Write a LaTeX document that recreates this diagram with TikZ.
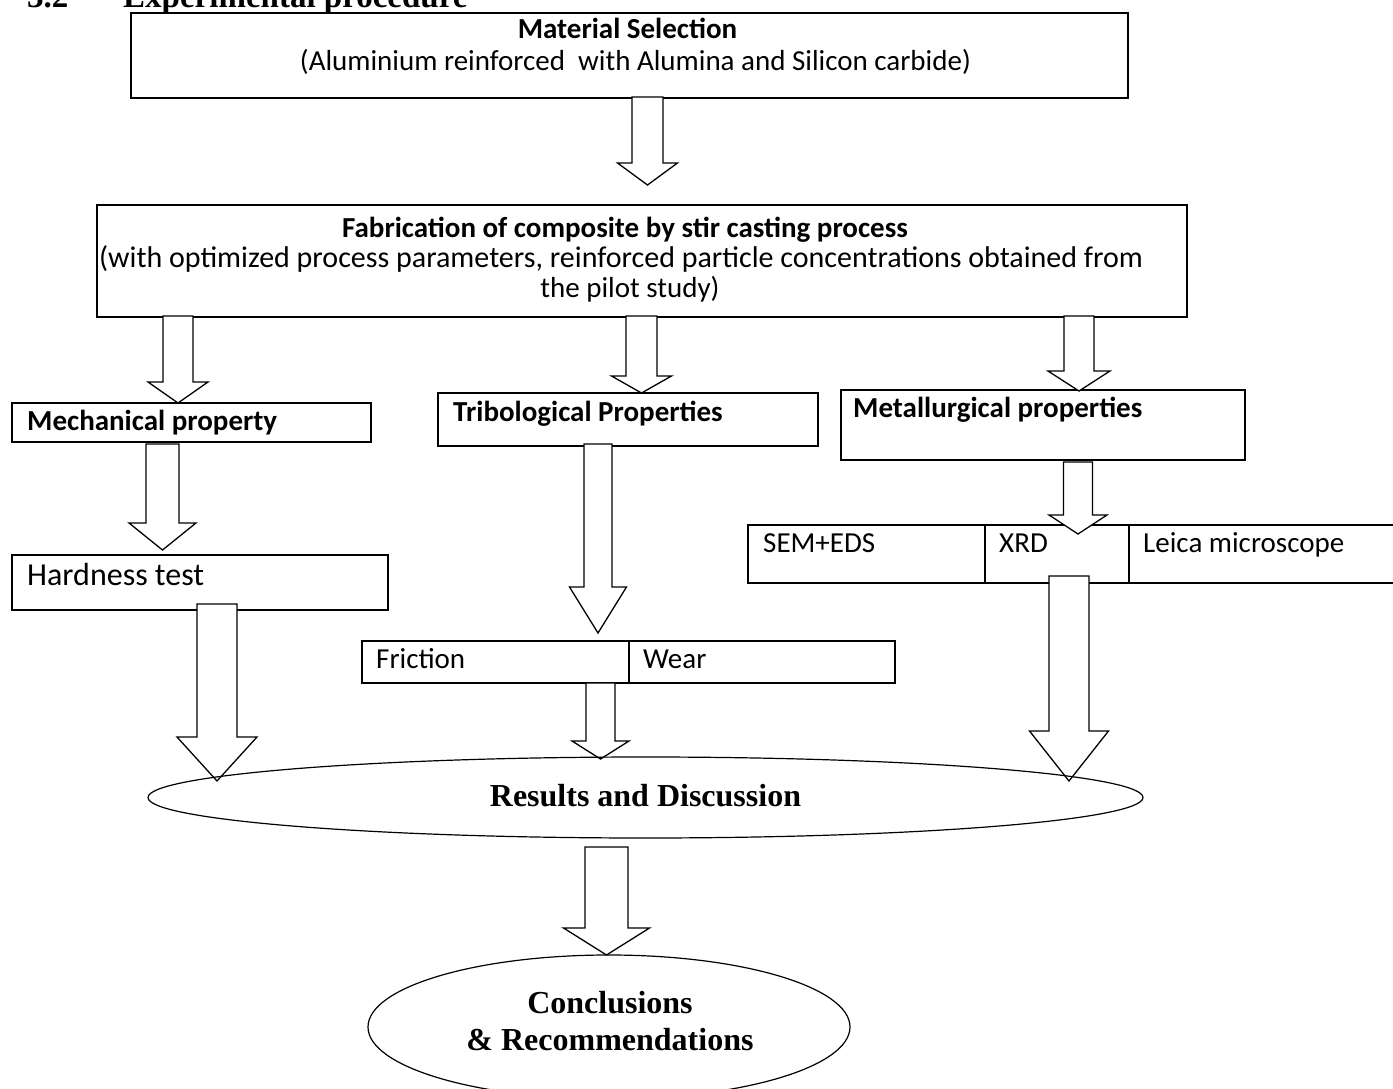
\documentclass[tikz,border=0pt]{standalone}
\usepackage{fontspec}
\usetikzlibrary{shapes.geometric}
\setmainfont{Carlito}
\newfontfamily\tnr{Liberation Serif}
\newcommand\blockarrow[6]{% cx, top, base, tip, shaft half, head half
  \draw[barrow] (#1-#5,#2) -- (#1+#5,#2) -- (#1+#5,#3) -- (#1+#6,#3) -- (#1,#4) -- (#1-#6,#3) -- (#1-#5,#3) -- cycle;}
\begin{document}
\begin{tikzpicture}[x=1pt,y=-1pt,
  box/.style={draw, line width=2pt, inner sep=0pt, anchor=north west, fill=white},
  oval/.style={draw, line width=1.2pt, ellipse, inner sep=0pt},
  barrow/.style={draw, fill=white, line width=1.3pt, line join=miter},
  txt/.style={inner sep=0pt, font=\fontsize{29}{35}\selectfont},
  btxt/.style={inner sep=0pt, font=\fontsize{29}{35}\selectfont\bfseries},
  stxt/.style={inner sep=0pt, font=\fontsize{32}{37}\selectfont\tnr\bfseries}]
\useasboundingbox (0,0) rectangle (1393,1089);
\clip (0,0) rectangle (1393,1089);
\fill[white] (0,0) rectangle (1393,1089);

% heading (cut at top)
\node[stxt, anchor=base west, font=\fontsize{33}{38}\selectfont\tnr\bfseries] (h1) at (27,8) {3.2};
\node[stxt, anchor=base west, font=\fontsize{33}{38}\selectfont\tnr\bfseries] (h2) at (123,8) {Experimental procedure};

% boxes
\node[box, minimum width=997, minimum height=85] (mat) at (130,12) {};
\node[box, minimum width=1090, minimum height=112] (fab) at (96,204) {};
\node[box, minimum width=359, minimum height=39] (mech) at (11,402) {};
\node[box, minimum width=380, minimum height=53] (trib) at (437,392) {};
\node[box, minimum width=404, minimum height=70] (met) at (840,389) {};
\node[box, minimum width=376, minimum height=55] (hard) at (11,554) {};
\node[box, minimum width=237, minimum height=58] (sem) at (747,524) {};
\node[box, minimum width=144, minimum height=58] (xrd) at (984,524) {};
\node[box, minimum width=280, minimum height=58] (leica) at (1128,524) {};
\node[box, minimum width=267, minimum height=42] (fric) at (361,640) {};
\node[box, minimum width=266, minimum height=42] (wear) at (628,640) {};

% texts
\node[btxt, anchor=base] (t1) at (627.5,39) {Material Selection};
\node[txt, anchor=base] (t2) at (635.5,71) {(Aluminium reinforced\ \ with Alumina and Silicon carbide)};
\node[btxt, anchor=base] (t3) at (625,237) {Fabrication of composite by stir casting process};
\node[txt, anchor=base, font=\fontsize{30}{35}\selectfont] (t4) at (621,267) {(with optimized process parameters, reinforced particle concentrations obtained from};
\node[txt, anchor=base] (t5) at (630,297) {the pilot study)};
\node[btxt, anchor=base west] (t6) at (27,430) {Mechanical property};
\node[btxt, anchor=base west] (t7) at (453,421) {Tribological Properties};
\node[btxt, anchor=base west] (t8) at (853,417) {Metallurgical properties};
\node[txt, anchor=base west, font=\fontsize{32}{36}\selectfont] (t9) at (27,585) {Hardness test};
\node[txt, anchor=base west] (t10) at (763,552) {SEM+EDS};
\node[txt, anchor=base west] (t11) at (999,552) {XRD};
\node[txt, anchor=base west] (t12) at (1143,552) {Leica microscope};
\node[txt, anchor=base west] (t13) at (376,668) {Friction};
\node[txt, anchor=base west] (t14) at (643,668) {Wear};

% block arrows
\blockarrow{647.5}{97}{163}{185}{15.5}{30}
\blockarrow{178}{316}{382}{403}{15}{30}
\blockarrow{641.5}{316}{376}{393}{15.5}{30}
\blockarrow{1079}{316}{371}{391}{15}{31}
\blockarrow{162.5}{444}{523}{550}{16.5}{33.5}
\blockarrow{598}{444}{587}{633}{14}{28.5}
\blockarrow{1078}{462}{515}{534}{14.5}{29}
\blockarrow{217}{604}{737}{781}{20}{40}
\blockarrow{600.5}{683}{741}{759}{14.5}{28.5}
\blockarrow{1069}{576}{731}{781}{20}{39.5}
\blockarrow{606.5}{847}{928}{955}{21.5}{43}

% ellipses
\node[oval, minimum width=995, minimum height=81] (res) at (645.5,797.5) {};
\node[stxt, anchor=base] (t15) at (645.5,806) {Results and Discussion};
\node[oval, minimum width=482, minimum height=144] (conc) at (609,1027) {};
\node[stxt, anchor=base] (t16) at (610,1013) {Conclusions};
\node[stxt, anchor=base] (t17) at (610,1050) {\& Recommendations};
\end{tikzpicture}
\end{document}
